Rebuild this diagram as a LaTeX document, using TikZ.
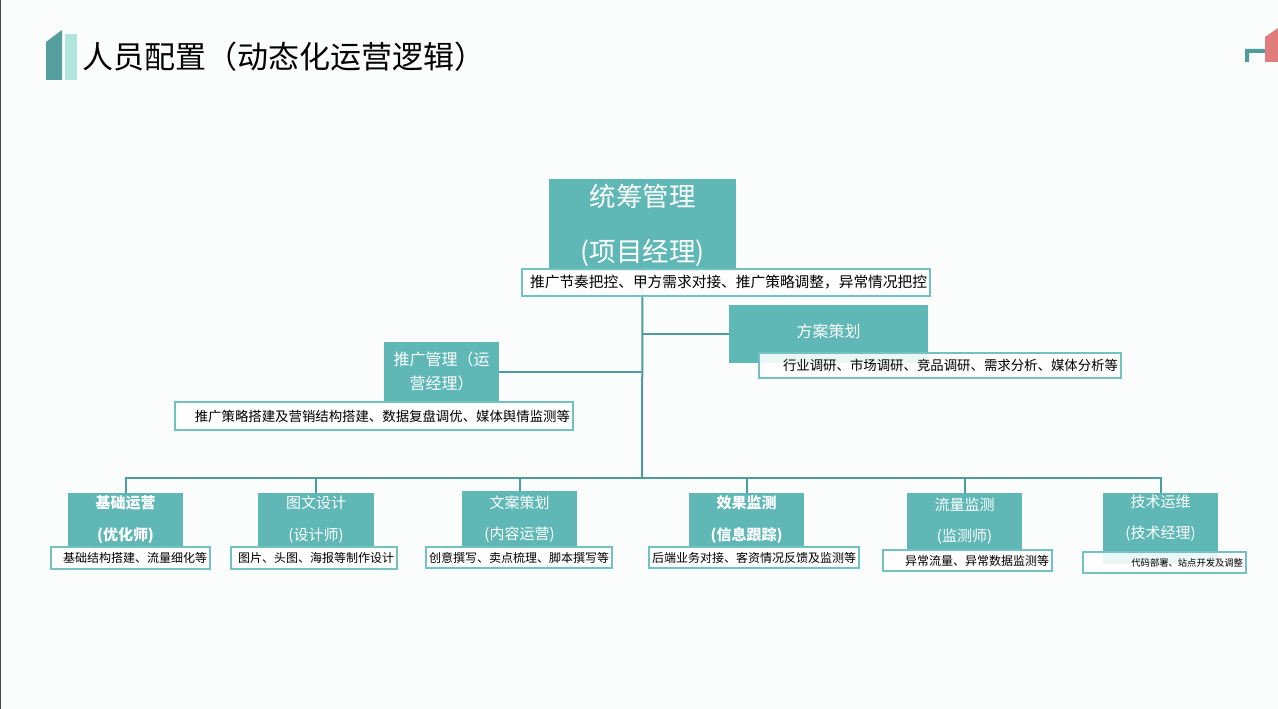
\documentclass[tikz,border=0pt]{standalone}
\usepackage{fontspec}
\setmainfont{Noto Sans CJK SC}
\usepackage{tikz}
\usetikzlibrary{calc,backgrounds}
\definecolor{tealbox}{HTML}{5FB7B6}
\definecolor{tealline}{HTML}{4E9C9C}
\definecolor{descline}{HTML}{72C2C2}
\definecolor{bardark}{HTML}{55A09E}
\definecolor{barlight}{HTML}{B1E5DD}
\definecolor{pinkbar}{HTML}{E07C7C}
\definecolor{pagebg}{HTML}{FBFDFD}

\begin{document}
\begin{tikzpicture}[x=1pt,y=-1pt,
    role/.style={fill=tealbox, text=white, inner sep=0pt, align=center},
    desc/.style={draw=descline, line width=1.5pt, fill=white, fill opacity=0.88, text opacity=1,
        text=black, inner xsep=3pt, inner ysep=0pt, align=right},
    link/.style={draw=tealline, line width=2pt}]
    \useasboundingbox (0,0) rectangle (1278,709);
    % title
    \fill[bardark] (46,42) -- (62,30) -- (62,80) -- (46,80) -- cycle;
    \fill[barlight] (65,34) rectangle (77,80);
    \node[anchor=west, inner sep=0pt, font=\fontsize{31}{35}\selectfont] (title) at (82,57) {人员配置（动态化运营逻辑）};
    \fill[tealline] (1245,62) -- (1245,49) -- (1265,49) -- (1265,53) -- (1249,53) -- (1249,62) -- cycle;
    \fill[pinkbar] (1265,37) -- (1278,28) -- (1278,62) -- (1265,62) -- cycle;

    \coordinate (hub) at (642,478);
    \node[role, minimum width=187pt, minimum height=92pt, font=\fontsize{26.5}{31}\selectfont] (pm) at (642.5,225) {统筹管理\\[24pt](项目经理)};
    \node[role, minimum width=199pt, minimum height=58pt, font=\fontsize{16}{19}\selectfont] (plan) at (828.5,334) {方案策划\\[-13pt]\mbox{}};
    \node[role, minimum width=115pt, minimum height=59pt, font=\fontsize{16}{24}\selectfont] (ops) at (441.5,371.5) {推广管理（运\\营经理）};

    \node[role, minimum width=115pt, minimum height=54pt, font=\bfseries\fontsize{15}{18}\selectfont] (base) at (125.5,520) {基础运营\\[14pt](优化师)};
    \node[role, minimum width=116pt, minimum height=54pt, font=\fontsize{15}{18}\selectfont] (design) at (316,520) {图文设计\\[14pt](设计师)};
    \node[role, minimum width=115pt, minimum height=56pt, font=\fontsize{15}{18}\selectfont] (copy) at (519.5,519) {文案策划\\[13pt](内容运营)};
    \node[role, minimum width=115pt, minimum height=54pt, font=\bfseries\fontsize{15}{18}\selectfont] (effect) at (746.5,520) {效果监测\\[14pt](信息跟踪)};
    \node[role, minimum width=115pt, minimum height=57pt, font=\fontsize{15}{18}\selectfont] (flow) at (964.5,521.5) {流量监测\\[13pt](监测师)};
    \node[role, minimum width=115pt, minimum height=71pt, font=\fontsize{15}{18}\selectfont] (tech) at (1160.5,528.5) {技术运维\\[13pt](技术经理)\\[6pt]\mbox{}};

    % connectors
    \begin{scope}[on background layer]
    \fill[pagebg] (0,0) rectangle (1278,709);
    \draw[black!70,line width=1pt] (0.5,0) -- (0.5,709);
    \draw[link] (pm.south) -- (hub);
    \draw[link] (plan.west) -- (plan.west -| hub);
    \draw[link] (ops.east) -- (ops.east -| hub);
    \draw[link] (base.north) |- (hub) -| (tech.north);
    \foreach \n in {design,copy,effect,flow}
        \draw[link] (\n.north) -- (\n.north |- hub);
    \end{scope}

    % descriptions
    \node[desc, text width=402pt, minimum height=27pt, font=\fontsize{14.7}{17}\selectfont] (pmd) at (726,282.5) {推广节奏把控、甲方需求对接、推广策略调整，异常情况把控};
    \node[desc, text width=356pt, minimum height=25pt, font=\fontsize{13.4}{16}\selectfont] (pland) at (940,365.5) {行业调研、市场调研、竞品调研、需求分析、媒体分析等};
    \node[desc, text width=392pt, minimum height=28pt, font=\fontsize{13.4}{16}\selectfont] (opsd) at (374,416) {推广策略搭建及营销结构搭建、数据复盘调优、媒体舆情监测等};
    \node[desc, text width=153pt, minimum height=22pt, font=\fontsize{12}{14}\selectfont] (based) at (130.5,558) {基础结构搭建、流量细化等};
    \node[desc, text width=160pt, minimum height=22pt, font=\fontsize{12}{14}\selectfont] (designd) at (314,558) {图片、头图、海报等制作设计};
    \node[desc, text width=180pt, minimum height=21pt, font=\fontsize{12}{14}\selectfont] (copyd) at (519,557.5) {创意撰写、卖点梳理、脚本撰写等};
    \node[desc, text width=204pt, minimum height=21pt, font=\fontsize{12}{14}\selectfont] (effectd) at (754,557.5) {后端业务对接、客资情况反馈及监测等};
    \node[desc, text width=163pt, minimum height=21pt, font=\fontsize{12}{14}\selectfont] (flowd) at (967.5,560.5) {异常流量、异常数据监测等};
    \node[desc, text width=157pt, minimum height=21pt, font=\fontsize{9.3}{11}\selectfont] (techd) at (1164.5,562.5) {代码部署、站点开发及调整};
\end{tikzpicture}
\end{document}
